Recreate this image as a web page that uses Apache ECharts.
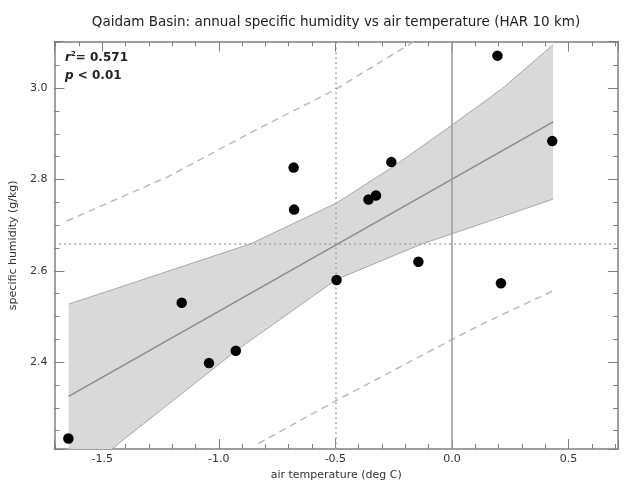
<!DOCTYPE html>
<html><head><meta charset="utf-8">
<script src="https://cdn.jsdelivr.net/npm/echarts@6/dist/echarts.min.js"></script>
<style>html,body{margin:0;padding:0;background:#fff}#c{width:624px;height:486px}</style>
</head><body><div id="c"></div>
<script>
// observations (air temperature anomaly, specific humidity)
const tempX  = [-1.645, -1.159, -1.042, -0.927, -0.679, -0.677, -0.495, -0.358, -0.326, -0.260, -0.144, 0.195, 0.210, 0.430];
const humidY = [2.233, 2.530, 2.398, 2.425, 2.826, 2.734, 2.580, 2.756, 2.765, 2.838, 2.620, 3.071, 2.573, 2.884];
// regression line
const fitX = [-1.644, 0.434];
const fitY = [2.325, 2.926];
// confidence band edges
const ciUpperX = [-1.644, -1.177, -0.864, -0.497, -0.255, 0.000, 0.213, 0.434];
const ciUpperY = [2.527, 2.606, 2.659, 2.748, 2.827, 2.919, 2.998, 3.095];
const ciLowerX = [0.434, 0.000, -0.128, -0.496, -0.921, -1.417, -1.644];
const ciLowerY = [2.757, 2.681, 2.659, 2.581, 2.427, 2.227, 2.130];
// prediction band edges (dashed)
const piUpperX = [-1.652, -1.218, -0.850, -0.496, -0.163];
const piUpperY = [2.709, 2.806, 2.906, 2.998, 3.102];
const piLowerX = [-0.830, -0.496, 0.035, 0.139, 0.437];
const piLowerY = [2.222, 2.316, 2.459, 2.486, 2.557];
// reference lines
const meanTemp = -0.5;
const meanHumid = 2.66;
const zeroTemp = 0;
// axis ranges
const xRange = [-1.705, 0.712];
const yRange = [2.210, 3.102];
const titleText = 'Qaidam Basin: annual specific humidity vs air temperature (HAR 10 km)';
const xName = 'air temperature (deg C)';
const yName = 'specific humidity (g/kg)';

const pairs = (xs, ys) => xs.map((x, i) => [x, ys[i]]);
const FONT = 'DejaVu Sans';
const axisCol = '#808080';

function mkX(pos, labels) {
  return {
    type: 'value', position: pos, min: xRange[0], max: xRange[1],
    axisLine: {show: true, onZero: false, lineStyle: {color: axisCol, width: 1.5}},
    axisTick: {show: true, inside: true, length: 10, lineStyle: {color: axisCol, width: 1}},
    minorTick: {show: true, splitNumber: 5, length: 5, lineStyle: {color: axisCol, width: 1}},
    splitLine: {show: false}, minorSplitLine: {show: false},
    axisLabel: {show: labels, color: '#333', fontFamily: FONT, fontSize: 11, margin: 5,
      showMinLabel: false, showMaxLabel: false, formatter: v => v.toFixed(1)},
    name: labels ? xName : '', nameLocation: 'middle', nameGap: 21,
    nameTextStyle: {color: '#333', fontFamily: FONT, fontSize: 11}
  };
}
function mkY(pos, labels) {
  return {
    type: 'value', position: pos, min: yRange[0], max: yRange[1],
    axisLine: {show: true, onZero: false, lineStyle: {color: axisCol, width: 1.5}},
    axisTick: {show: true, inside: true, length: 10, lineStyle: {color: axisCol, width: 1}},
    minorTick: {show: true, splitNumber: 4, length: 5, lineStyle: {color: axisCol, width: 1}},
    splitLine: {show: false}, minorSplitLine: {show: false},
    axisLabel: {show: labels, color: '#333', fontFamily: FONT, fontSize: 11, margin: 7,
      showMinLabel: false, showMaxLabel: false, formatter: v => v.toFixed(1)},
    name: labels ? yName : '', nameLocation: 'middle', nameGap: 24, nameRotate: 90,
    nameTextStyle: {color: '#333', fontFamily: FONT, fontSize: 11}
  };
}

const chart = echarts.init(document.getElementById('c'), null, {renderer: 'canvas'});
chart.setOption({
  animation: false,
  backgroundColor: '#fff',
  title: {text: titleText, left: 331, top: 10, textAlign: 'center',
    textStyle: {fontFamily: FONT, fontSize: 13.5, fontWeight: 'normal', color: '#222'}},
  grid: {left: 49, right: 6, top: 41.5, bottom: 28, containLabel: false},
  xAxis: [mkX('bottom', true), mkX('top', false)],
  yAxis: [mkY('left', true), mkY('right', false)],
  graphic: [{
    type: 'text', left: 65, top: 51,
    style: {text: '{i|r}{s|2}{n|= 0.571}', rich: {
      i: {fontFamily: FONT, fontSize: 12, fontStyle: 'italic', fill: '#222', fontWeight: 'bold'},
      s: {fontFamily: FONT, fontSize: 7, fill: '#222', verticalAlign: 'top', padding: [0, 0, 6, 0], fontWeight: 'bold'},
      n: {fontFamily: FONT, fontSize: 12, fill: '#222', fontWeight: 'bold'}
    }}
  }, {
    type: 'text', left: 65, top: 70,
    style: {text: '{i|p}{n| < 0.01}', rich: {
      i: {fontFamily: FONT, fontSize: 12, fontStyle: 'italic', fill: '#222', fontWeight: 'bold'},
      n: {fontFamily: FONT, fontSize: 12, fill: '#222', fontWeight: 'bold'}
    }}
  }],
  series: [
    {
      type: 'custom', name: 'ci', clip: true, z: 1, silent: true,
      data: [[ciUpperX[0], ciUpperY[0]]],
      renderItem: function (params, api) {
        const pts = [];
        for (let i = 0; i < ciUpperX.length; i++) pts.push(api.coord([ciUpperX[i], ciUpperY[i]]));
        for (let i = 0; i < ciLowerX.length; i++) pts.push(api.coord([ciLowerX[i], ciLowerY[i]]));
        return {type: 'polygon', shape: {points: pts}, style: {fill: '#d9d9d9', stroke: null}};
      }
    },
    {type: 'line', z: 2, data: pairs(ciUpperX, ciUpperY), showSymbol: false, clip: true, silent: true,
      lineStyle: {color: '#a8a8a8', width: 1}},
    {type: 'line', z: 2, data: pairs(ciLowerX, ciLowerY), showSymbol: false, clip: true, silent: true,
      lineStyle: {color: '#a8a8a8', width: 1}},
    {type: 'line', z: 3, data: pairs(piUpperX, piUpperY), showSymbol: false, clip: true, silent: true,
      lineStyle: {color: '#bdbdbd', width: 1.5, type: [7, 5]}},
    {type: 'line', z: 3, data: pairs(piLowerX, piLowerY), showSymbol: false, clip: true, silent: true,
      lineStyle: {color: '#bdbdbd', width: 1.5, type: [7, 5]}},
    {type: 'line', z: 4, data: pairs(fitX, fitY), showSymbol: false, clip: true, silent: true,
      lineStyle: {color: '#8a8a8a', width: 1.5},
      markLine: {silent: true, symbol: 'none', animation: false, label: {show: false},
        data: [
          {xAxis: meanTemp, lineStyle: {color: '#999', width: 1.5, type: [1.5, 3.5]}},
          {yAxis: meanHumid, lineStyle: {color: '#999', width: 1.5, type: [1.5, 3.5]}},
          {xAxis: zeroTemp, lineStyle: {color: '#9a9a9a', width: 1.5, type: 'solid'}}
        ]}},
    {type: 'scatter', z: 6, data: pairs(tempX, humidY), symbol: 'circle', symbolSize: 10.5,
      itemStyle: {color: '#000', opacity: 1}, silent: true}
  ]
});
</script></body></html>
